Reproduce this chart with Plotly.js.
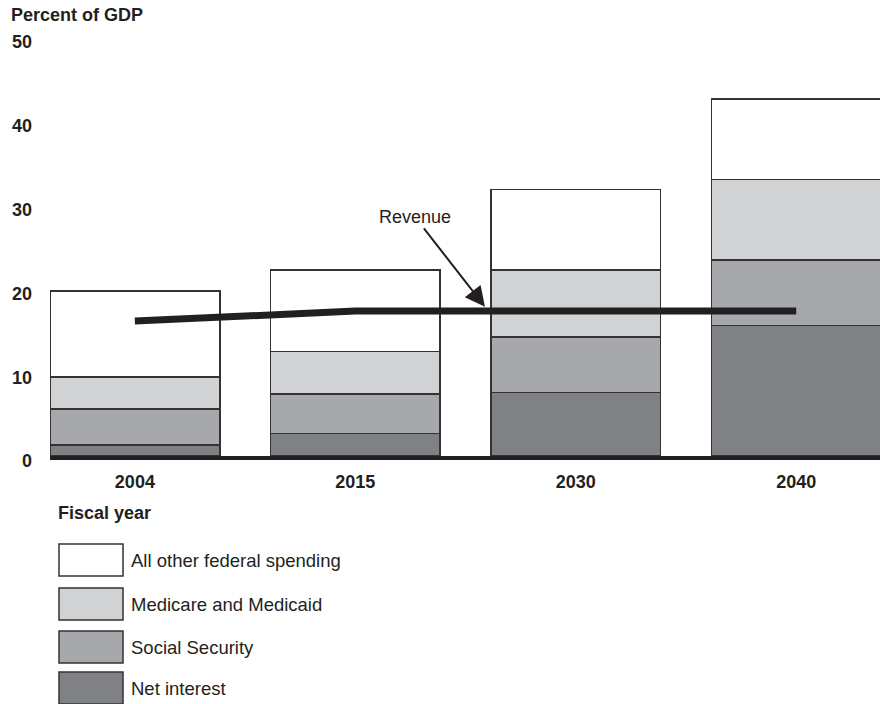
<!DOCTYPE html>
<html>
<head>
<meta charset="utf-8">
<script src="https://cdn.plot.ly/plotly-3.0.1.min.js"></script>
<style>
  html, body { margin: 0; padding: 0; background: #ffffff; }
  #chart { width: 880px; height: 704px; }
</style>
</head>
<body>
<div id="chart"></div>
<script>
// ---- Data (percent of GDP) ----
const categories = ['2004', '2015', '2030', '2040'];
const netInterest = [1.3, 2.7, 7.6, 15.6];
const socialSecurity = [4.3, 4.7, 6.6, 7.8];
const medicareMedicaid = [3.8, 5.1, 8.0, 9.6];
const allOtherSpending = [10.3, 9.7, 9.6, 9.6];
const revenue = [16.1, 17.3, 17.3, 17.3];
const yTickValues = [0, 10, 20, 30, 40, 50];
const legendNames = ['All other federal spending', 'Medicare and Medicaid', 'Social Security', 'Net interest'];

// ---- Styles ----
const ink = '#231f20';
const colors = {
  'Net interest': '#808184',
  'Social Security': '#a7a8ab',
  'Medicare and Medicaid': '#d1d2d4',
  'All other federal spending': '#ffffff'
};
const fontFamily = 'Liberation Sans, Arial, Helvetica, sans-serif';

const W = 880, H = 704;
const M = { l: 50, r: 0, t: 37, b: 248 };
const plotW = W - M.l - M.r, plotH = H - M.t - M.b;
const pxX = px => (px - M.l) / plotW;
const pxY = py => (H - M.b - py) / plotH;

function barTrace(name, values) {
  return {
    type: 'bar', name: name, x: categories, y: values,
    width: 0.77,
    marker: { color: colors[name], line: { color: '#333333', width: 1.5 } },
    showlegend: false, hoverinfo: 'skip'
  };
}

const traces = [
  barTrace('Net interest', netInterest),
  barTrace('Social Security', socialSecurity),
  barTrace('Medicare and Medicaid', medicareMedicaid),
  barTrace('All other federal spending', allOtherSpending),
  {
    type: 'scatter', mode: 'lines', name: 'Revenue',
    x: categories, y: revenue,
    line: { color: ink, width: 7 },
    showlegend: false, hoverinfo: 'skip'
  }
];

const annotations = [
  { xref: 'paper', yref: 'paper', x: pxX(9), y: pxY(15), xanchor: 'left', yanchor: 'middle',
    text: '<b>Percent of GDP</b>', showarrow: false, font: { size: 18, color: ink, family: fontFamily } },
  { xref: 'paper', yref: 'paper', x: pxX(56), y: pxY(513), xanchor: 'left', yanchor: 'middle',
    text: '<b>Fiscal year</b>', showarrow: false, font: { size: 18, color: ink, family: fontFamily } },
  { xref: 'x', yref: 'y', x: 1.588, y: 17.8, ax: -70, ay: -90, axref: 'pixel', ayref: 'pixel',
    text: 'Revenue', showarrow: true, arrowhead: 2, arrowsize: 2, arrowwidth: 2, arrowcolor: ink,
    standoff: 0, font: { size: 18, color: ink, family: fontFamily } }
];

const shapes = [];
const legendRowTop = [544, 588, 631, 672];
legendNames.forEach((name, i) => {
  const top = legendRowTop[i];
  shapes.push({
    type: 'rect', xref: 'paper', yref: 'paper',
    x0: pxX(59), x1: pxX(123), y0: pxY(top + 32), y1: pxY(top),
    fillcolor: colors[name], line: { color: '#333333', width: 1.5 }
  });
  annotations.push({
    xref: 'paper', yref: 'paper', x: pxX(129), y: pxY(top + 16),
    xanchor: 'left', yanchor: 'middle', showarrow: false, text: name,
    font: { size: 18.5, color: ink, family: fontFamily }
  });
});

const layout = {
  width: W, height: H,
  margin: M,
  paper_bgcolor: '#ffffff', plot_bgcolor: '#ffffff',
  barmode: 'stack',
  font: { family: fontFamily, size: 18, color: ink },
  xaxis: {
    type: 'category', range: [-0.385, 3.38],
    showline: true, linecolor: ink, linewidth: 4,
    showgrid: false, zeroline: false, ticks: '',
    tickfont: { size: 18, color: ink, family: fontFamily, weight: 'bold' },
    ticklabelstandoff: 6, fixedrange: true
  },
  yaxis: {
    range: [0, 50], tickvals: yTickValues, ticktext: yTickValues.map(String),
    showline: false, showgrid: false, zeroline: false, ticks: '',
    tickfont: { size: 18, color: ink, family: fontFamily, weight: 'bold' },
    ticklabelstandoff: 17, ticklabelshift: 5, fixedrange: true
  },
  annotations: annotations,
  shapes: shapes
};

Plotly.newPlot('chart', traces, layout, { displayModeBar: false, staticPlot: true });
</script>
</body>
</html>
